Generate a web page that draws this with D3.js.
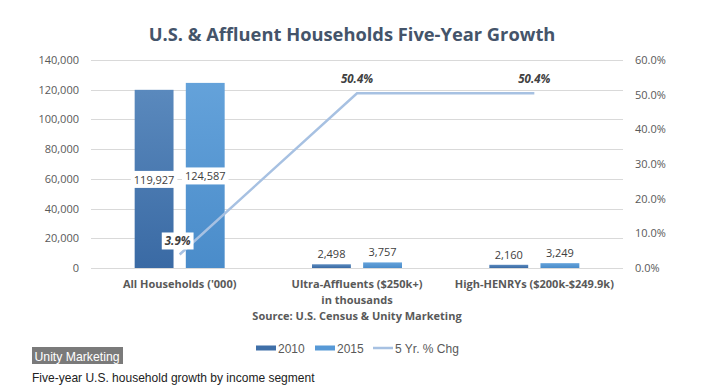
<!DOCTYPE html>
<html><head><meta charset="utf-8">
<script src="https://cdn.jsdelivr.net/npm/d3@7/dist/d3.min.js"></script>
<style>
body{margin:0;background:#fff;}
svg{display:block;}
</style></head>
<body>
<svg id="c" width="710" height="392"></svg>
<script>
const categories = ["All Households ('000)", "Ultra-Affluents ($250k+)", "High-HENRYs ($200k-$249.9k)"];
const categorySubLabels = ["", "in thousands", ""];
const series2010 = [119927, 2498, 2160];
const series2015 = [124587, 3757, 3249];
const pctChange = [3.9, 50.4, 50.4];
const leftTicks = [0, 20000, 40000, 60000, 80000, 100000, 120000, 140000];
const rightTicks = [0, 10, 20, 30, 40, 50, 60];
const seriesNames = ["2010", "2015", "5 Yr. % Chg"];
const title = "U.S. & Affluent Households Five-Year Growth";
const source = "Source:  U.S. Census & Unity Marketing";
const badge = "Unity Marketing";
const caption = "Five-year U.S. household growth by income segment";

const svg = d3.select("#c");
const FONT = "'Open Sans', 'Noto Sans', sans-serif";
const NARROW = "'Liberation Sans Narrow', 'Arial Narrow', 'Liberation Sans', sans-serif";

const plot = {left: 91, right: 623, top: 60, bottom: 268};

const defs = svg.append("defs");
function grad(id, c1, c2){
  const g = defs.append("linearGradient").attr("id", id).attr("x1",0).attr("y1",0).attr("x2",0).attr("y2",1);
  g.append("stop").attr("offset","0%").attr("stop-color",c1);
  g.append("stop").attr("offset","100%").attr("stop-color",c2);
}
grad("g2010", "#5a89bd", "#3a6aa4");
grad("g2015", "#64a2da", "#4a8cca");

const x = d3.scaleBand().domain(categories).range([plot.left, plot.right]).paddingInner(0).paddingOuter(0);
const xs = d3.scaleBand().domain(["2010","2015"]).range([0, 90]).paddingInner(0.24);
const yL = d3.scaleLinear().domain([0, 140000]).range([plot.bottom, plot.top]);
const yR = d3.scaleLinear().domain([0, 60]).range([plot.bottom, plot.top]);

// title
const t = svg.append("text").attr("x", 352).attr("y", 41).attr("text-anchor","middle")
  .attr("font-family", FONT).attr("font-weight", 700).attr("font-size", 20).attr("fill", "#44546a").text(title);
{ const w = t.node().getComputedTextLength(); t.attr("font-size", 20 * 407 / w); }

// gridlines
svg.append("g").selectAll("line").data(leftTicks).join("line")
  .attr("x1", plot.left).attr("x2", plot.right)
  .attr("y1", d => Math.round(yL(d)) + 0.5).attr("y2", d => Math.round(yL(d)) + 0.5)
  .attr("stroke", "#d9d9d9").attr("stroke-width", 1);

// left axis
const axL = d3.axisLeft(yL).tickValues(leftTicks).tickFormat(d3.format(",")).tickSize(0).tickPadding(0);
const gL = svg.append("g").attr("transform", `translate(79,0)`).call(axL);
gL.select(".domain").remove();
gL.selectAll("text").attr("font-family", FONT).attr("font-size", 11).attr("fill", "#595959");

// right axis
const axR = d3.axisRight(yR).tickValues(rightTicks).tickFormat(d => d.toFixed(1) + "%").tickSize(0).tickPadding(0);
const gR = svg.append("g").attr("transform", `translate(635,0)`).call(axR);
gR.select(".domain").remove();
gR.selectAll("text").attr("font-family", FONT).attr("font-size", 11).attr("fill", "#595959");

// bars
const barData = [];
categories.forEach((c, i) => {
  barData.push({cat: c, s: "2010", v: series2010[i]});
  barData.push({cat: c, s: "2015", v: series2015[i]});
});
const bw = xs.bandwidth();
const bx = d => x(d.cat) + (x.bandwidth() - 90) / 2 + xs(d.s);
svg.append("g").selectAll("rect").data(barData).join("rect")
  .attr("x", bx).attr("width", bw)
  .attr("y", d => yL(d.v)).attr("height", d => yL(0) - yL(d.v))
  .attr("fill", d => d.s === "2010" ? "url(#g2010)" : "url(#g2015)");

// bar labels
const lblG = svg.append("g");
barData.forEach(d => {
  const h = yL(0) - yL(d.v);
  const cx = bx(d) + bw / 2;
  const inside = h > 40;
  const cy = inside ? (yL(d.v) + yL(0)) / 2 + 5 : yL(d.v) - 6;
  const txt = d3.format(",")(d.v);
  const tt = lblG.append("text").attr("x", cx).attr("y", cy).attr("text-anchor","middle")
    .attr("font-family", FONT).attr("font-size", 11).attr("fill", "#404040").text(txt);
  if (inside) {
    const w = tt.node().getComputedTextLength();
    lblG.insert("rect", () => tt.node()).attr("x", cx - w/2 - 3).attr("y", cy - 13).attr("width", w + 6).attr("height", 17).attr("fill", "#fff");
  }
});

// line
const lineX = c => x(c) + x.bandwidth() / 2;
const line = d3.line().x((d, i) => lineX(categories[i])).y(d => yR(d));
svg.append("path").datum(pctChange).attr("d", line).attr("fill","none")
  .attr("stroke", "#a7c1e2").attr("stroke-width", 2.5);

// line labels
const pg = svg.append("g");
pctChange.forEach((v, i) => {
  const px = lineX(categories[i]);
  const first = i === 0;
  const lx = first ? px - 2 : px;
  const ly = first ? yR(v) - 9 : yR(v) - 10;
  const tt = pg.append("text").attr("x", lx).attr("y", ly).attr("text-anchor","middle")
    .attr("font-family", FONT).attr("font-size", 11.5).attr("font-weight", 700).attr("font-style","italic")
    .attr("fill", "#404040").text(v.toFixed(1) + "%");
  if (first) {
    const w = tt.node().getComputedTextLength();
    pg.insert("rect", () => tt.node()).attr("x", lx - w/2 - 3).attr("y", ly - 13).attr("width", w + 6).attr("height", 17).attr("fill", "#fff");
  }
});

// category labels
const cg = svg.append("g");
categories.forEach((c, i) => {
  cg.append("text").attr("x", lineX(c)).attr("y", 288).attr("text-anchor","middle")
    .attr("font-family", FONT).attr("font-weight", 700).attr("font-size", 11).attr("fill", "#595959").text(c);
  if (categorySubLabels[i]) {
    cg.append("text").attr("x", lineX(c)).attr("y", 304).attr("text-anchor","middle")
      .attr("font-family", FONT).attr("font-weight", 700).attr("font-size", 11).attr("fill", "#595959").text(categorySubLabels[i]);
  }
});
svg.append("text").attr("x", 357).attr("y", 320).attr("text-anchor","middle")
  .attr("font-family", FONT).attr("font-weight", 700).attr("font-size", 11).attr("fill", "#595959").text(source);

// legend
const lg = svg.append("g");
const legendX = [256, 315, 373];
seriesNames.forEach((n, i) => {
  const lx = legendX[i];
  if (i < 2) {
    lg.append("rect").attr("x", lx).attr("y", 345.5).attr("width", 20).attr("height", 5)
      .attr("fill", i === 0 ? "#3f6fa8" : "#5799d6");
  } else {
    lg.append("line").attr("x1", lx).attr("x2", lx + 20).attr("y1", 348).attr("y2", 348)
      .attr("stroke", "#a7c1e2").attr("stroke-width", 2.5);
  }
  lg.append("text").attr("x", lx + 22).attr("y", 352.5).attr("font-family", NARROW)
    .attr("font-size", 12).attr("fill", "#595959").text(n);
});

// badge + caption
svg.append("rect").attr("x", 32).attr("y", 347).attr("width", 91).attr("height", 17).attr("fill", "#7a7a7a");
svg.append("text").attr("x", 34.5).attr("y", 360.5).attr("font-family", "'Liberation Sans', Arial, sans-serif")
  .attr("font-size", 13).attr("fill", "#fff")
  .attr("textLength", 85).attr("lengthAdjust", "spacingAndGlyphs").text(badge);
const ct = svg.append("text").attr("x", 32).attr("y", 382).attr("font-family", "'Liberation Sans', Arial, sans-serif")
  .attr("font-size", 12.5).attr("fill", "#222").text(caption);
{ const w = ct.node().getComputedTextLength(); ct.attr("font-size", 12.5 * 283 / w); }
</script>
</body></html>
